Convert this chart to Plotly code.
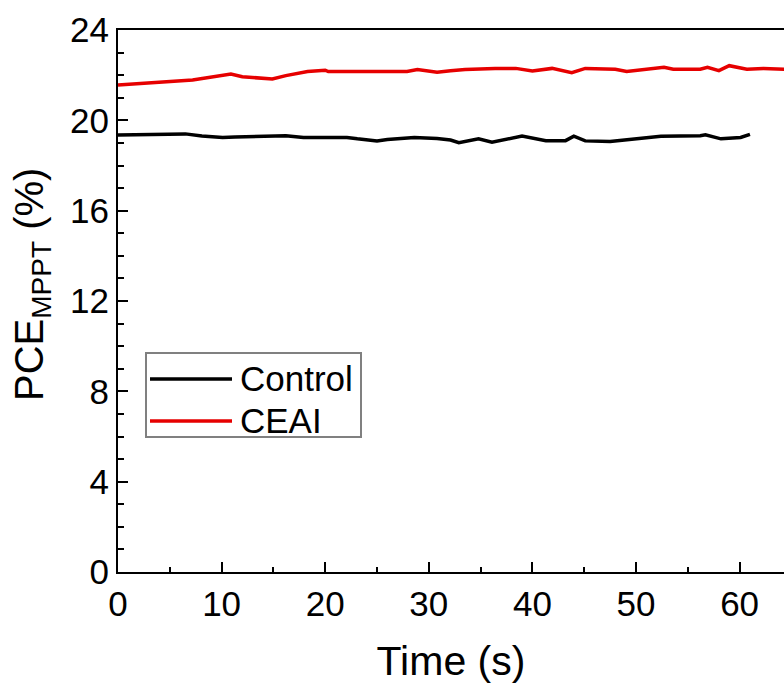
import plotly.graph_objects as go

# ---- data ----
control_t = [0, 3, 6.5, 8.1, 10.1, 11.3, 14.6, 16.2, 17.9, 22.1, 23.1, 25, 26, 28.6, 30.8, 32.1,
             32.9, 34.8, 36.1, 39, 41.3, 43.2, 44, 45.1, 47.5, 48.8, 52.4, 56.2, 56.7, 58.2, 60.1, 61]
control = [19.35, 19.37, 19.40, 19.31, 19.24, 19.26, 19.32, 19.32, 19.24, 19.24, 19.18, 19.09, 19.15,
           19.24, 19.20, 19.13, 19.01, 19.18, 19.03, 19.30, 19.10, 19.10, 19.30, 19.09, 19.06, 19.13,
           19.30, 19.32, 19.36, 19.18, 19.24, 19.38]

ceai_t = [0, 7.2, 10.9, 12, 14.9, 16.2, 18.3, 20, 20.3, 27.9, 28.9, 30.8, 32.1, 33.5, 36.4, 38.4, 40,
          41.9, 43.8, 45.1, 48, 49.1, 52.7, 53.6, 56.2, 56.9, 58, 59, 60.7, 62.3, 64.3, 66]
ceai = [21.57, 21.79, 22.05, 21.93, 21.83, 21.98, 22.16, 22.22, 22.16, 22.16, 22.25, 22.13, 22.20,
        22.25, 22.30, 22.30, 22.19, 22.30, 22.11, 22.30, 22.26, 22.16, 22.35, 22.26, 22.26, 22.35,
        22.20, 22.42, 22.26, 22.30, 22.26, 22.26]

series_names = ["Control", "CEAI"]
series_colors = ["#000000", "#E60000"]
x_ticks = [0, 10, 20, 30, 40, 50, 60]
y_ticks = [0, 4, 8, 12, 16, 20, 24]

FONT = "Arial, Liberation Sans, Helvetica, sans-serif"

W, H = 784, 688
ML, MR, MT, MB = 118, 0, 30, 116
PW, PH = W - ML - MR, H - MT - MB

def px(x):
    return (x - ML) / PW

def py(y):
    return (H - MB - y) / PH

fig = go.Figure()
fig.add_trace(go.Scatter(x=control_t, y=control, mode="lines", name=series_names[0],
                         line=dict(color=series_colors[0], width=3.5), showlegend=False))
fig.add_trace(go.Scatter(x=ceai_t, y=ceai, mode="lines", name=series_names[1],
                         line=dict(color=series_colors[1], width=3.5), showlegend=False))

# manual legend
shapes = [dict(type="rect", xref="paper", yref="paper", x0=px(146), x1=px(361), y0=py(437), y1=py(353),
               line=dict(color="#808080", width=2), fillcolor="white", layer="above")]
annotations = []
for i, (nm, col) in enumerate(zip(series_names, series_colors)):
    yy = 379 + i * 42
    shapes.append(dict(type="line", xref="paper", yref="paper", x0=px(150), x1=px(232), y0=py(yy), y1=py(yy),
                       line=dict(color=col, width=3.5), layer="above"))
    annotations.append(dict(text=nm, xref="paper", yref="paper", x=px(238), y=py(yy - 1),
                            xanchor="left", yanchor="middle", showarrow=False,
                            font=dict(family=FONT, size=35, color="black")))

# y-axis title (as rotated annotation for exact placement)
annotations.append(dict(text="PCE<sub>MPPT</sub> (%)", xref="paper", yref="paper",
                        x=px(32), y=py(285), xanchor="center", yanchor="middle", textangle=-90,
                        showarrow=False, font=dict(family=FONT, size=40, color="black")))

fig.update_layout(
    width=W, height=H,
    margin=dict(l=ML, r=MR, t=MT, b=MB),
    paper_bgcolor="white", plot_bgcolor="white",
    font=dict(family=FONT, color="black"),
    shapes=shapes, annotations=annotations,
    xaxis=dict(range=[0, PW / 10.36], tickvals=x_ticks, ticktext=[str(v) for v in x_ticks],
               ticks="inside", ticklen=10, tickwidth=2, tickcolor="black",
               minor=dict(dtick=5, ticks="inside", ticklen=5, tickwidth=2, tickcolor="black"),
               showline=True, linecolor="black", linewidth=2, mirror=True,
               showgrid=False, zeroline=False, automargin=False,
               tickfont=dict(family=FONT, size=35),
               title=dict(text="Time (s)", font=dict(family=FONT, size=41), standoff=24)),
    yaxis=dict(range=[0, 24], tickvals=y_ticks, ticktext=[str(v) for v in y_ticks],
               ticks="inside", ticklen=10, tickwidth=2, tickcolor="black",
               minor=dict(dtick=1, ticks="inside", ticklen=6, tickwidth=2, tickcolor="black"),
               showline=True, linecolor="black", linewidth=2, mirror=False,
               showgrid=False, zeroline=False, automargin=False,
               tickfont=dict(family=FONT, size=35)),
)

fig.write_html("out.html", config={"displayModeBar": False},
               post_script="document.body.style.margin='0';")
